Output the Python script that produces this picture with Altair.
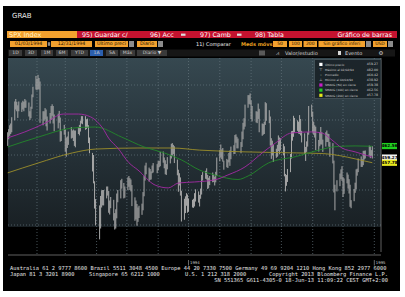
import altair as alt
import pandas as pd

# ------------------------------------------------------------------ data
HOLIDAYS = ["1994-02-21", "1994-04-01", "1994-04-27", "1994-05-30",
            "1994-07-04", "1994-09-05", "1994-11-24", "1994-12-26"]

LOW_JAN = [462.6, 464.5, 465.5, 466.0, 466.5, 469.9, 473.0, 472.5, 470.6, 472.5, 472.3,
           473.0, 472.5, 473.5, 473.5, 471.0, 470.0, 470.5, 473.2, 476.5, 478.7]
HIGH_JAN = [466.5, 467.4, 468.5, 469.0, 470.8, 475.3, 476.0, 475.2, 474.2, 475.3, 475.0,
            475.5, 475.2, 476.0, 475.6, 475.0, 472.5, 473.8, 477.3, 479.5, 482.6]
LOW_FEB = [478.5, 478.8, 478.7, 469.2, 468.5, 469.8, 470.2, 468.2, 467.0, 469.0,
           470.0, 471.2, 469.0, 466.8, 467.6, 469.2, 463.8, 464.0, 465.8]
HIGH_FEB = [481.7, 482.9, 482.0, 481.0, 472.5, 472.5, 473.4, 473.0, 471.0, 472.0,
            474.0, 474.5, 474.0, 471.6, 471.8, 472.6, 470.7, 466.8, 468.6]
LOW_MAR = [461.0, 459.5, 462.0, 462.9, 464.7, 464.9, 464.0, 462.6, 462.2, 466.0, 465.6, 466.7,
           469.0, 468.8, 467.2, 467.4, 467.8, 463.4, 460.5, 455.3, 451.9, 444.7, 439.9]
HIGH_MAR = [467.4, 465.0, 465.3, 466.7, 468.0, 467.0, 467.3, 467.0, 467.0, 468.0, 468.6, 469.8,
            471.1, 471.1, 471.1, 470.2, 470.4, 468.5, 465.0, 460.6, 460.0, 452.5, 447.4]
LOW_APR = [435.9, 439.0, 445.0, 445.6, 445.6, 447.6, 448.4, 443.5, 443.0, 444.8,
           441.3, 438.7, 439.0, 441.9, 446.5, 447.6, 450.4, 447.6, 447.8]
HIGH_APR = [445.6, 448.3, 449.9, 450.0, 450.0, 451.0, 451.0, 449.7, 447.0, 448.0,
            447.2, 443.4, 444.5, 449.0, 450.0, 452.8, 453.2, 452.0, 451.0]
LOW_MAY = [450.0, 450.9, 450.0, 449.6, 445.4, 441.2, 441.6, 439.8, 440.9, 442.0, 442.9,
           444.2, 448.2, 452.7, 454.5, 452.4, 452.9, 453.0, 454.8, 455.0, 454.8]
HIGH_MAY = [453.6, 454.0, 453.4, 453.0, 451.4, 447.9, 447.0, 446.0, 445.0, 445.5, 446.1,
            449.4, 454.0, 457.0, 457.8, 456.4, 456.0, 455.3, 457.0, 457.7, 457.4]
LOW_JUN = [455.6, 456.5, 456.8, 457.8, 456.2, 454.5, 454.3, 455.9, 457.6, 459.0, 459.8,
           460.3, 457.7, 454.2, 449.5, 451.3, 448.4, 441.0, 441.5, 443.4, 445.5, 443.5]
HIGH_JUN = [458.3, 458.3, 460.9, 461.0, 459.3, 458.5, 457.4, 459.4, 460.0, 463.2, 463.4,
            462.9, 462.5, 458.7, 455.8, 454.8, 453.6, 449.8, 447.5, 448.2, 449.1, 448.7]
LOW_JUL = [443.8, 445.0, 444.9, 445.3, 446.7, 446.4, 445.3, 447.5, 448.7, 452.7,
           453.2, 453.0, 450.3, 450.5, 451.4, 452.2, 452.3, 451.3, 452.2, 454.0]
HIGH_JUL = [447.6, 447.2, 447.5, 449.1, 450.2, 449.6, 448.6, 450.4, 454.3, 455.1,
            455.5, 456.2, 454.3, 453.5, 454.0, 455.0, 454.4, 453.8, 455.2, 459.3]
LOW_AUG = [458.2, 459.3, 458.8, 458.1, 455.8, 456.5, 456.3, 457.9, 456.9, 458.8, 460.3, 460.3,
           463.5, 461.9, 461.9, 460.5, 462.3, 464.5, 467.3, 468.1, 473.5, 474.6, 474.4]
HIGH_AUG = [461.5, 463.0, 461.6, 462.0, 458.4, 458.9, 458.6, 460.6, 461.3, 462.4, 462.8, 465.7,
            465.9, 465.2, 464.7, 463.7, 466.7, 469.2, 470.5, 474.4, 477.1, 477.1, 477.6]
LOW_SEP = [470.3, 469.6, 469.3, 469.1, 470.3, 466.5, 465.5, 465.8, 466.0, 468.6, 469.8,
           469.1, 462.7, 458.9, 459.9, 458.0, 459.2, 459.5, 461.1, 460.2, 461.3]
HIGH_SEP = [475.6, 474.0, 472.5, 472.4, 474.7, 473.2, 469.0, 468.9, 469.5, 475.1, 474.8,
            472.8, 471.0, 464.8, 464.1, 462.9, 461.8, 462.9, 465.6, 465.0, 464.8]
LOW_OCT = [459.9, 453.9, 449.6, 451.2, 452.3, 455.1, 459.0, 464.1, 465.2, 466.5, 466.9,
           466.1, 466.0, 465.6, 463.6, 460.3, 458.3, 460.9, 462.4, 465.8, 470.9]
HIGH_OCT = [463.2, 462.5, 454.6, 454.3, 456.0, 460.3, 466.8, 466.9, 471.2, 470.6, 469.9,
            469.5, 471.4, 470.3, 466.9, 466.2, 462.3, 463.9, 466.5, 474.0, 474.4]
LOW_NOV = [466.4, 465.8, 465.0, 461.4, 461.0, 462.5, 463.0, 463.0, 460.9, 462.4, 463.7,
           463.7, 462.4, 459.5, 457.6, 449.3, 444.2, 449.6, 451.1, 453.1, 452.6]
HIGH_NOV = [472.4, 469.5, 468.5, 468.1, 464.3, 466.5, 468.0, 466.5, 464.4, 466.5, 467.0,
            466.1, 466.0, 463.7, 463.4, 458.4, 451.5, 452.8, 454.7, 455.9, 456.8]
LOW_DEC = [448.0, 448.9, 451.9, 450.4, 449.0, 445.2, 444.8, 446.8, 449.2, 450.2, 454.1,
           455.1, 456.6, 456.6, 457.1, 458.7, 459.0, 459.8, 459.1, 459.8, 459.0]
HIGH_DEC = [453.7, 453.3, 455.0, 454.4, 453.1, 451.5, 447.1, 450.3, 452.1, 455.9, 456.1,
            459.0, 459.6, 458.8, 461.2, 461.2, 461.3, 462.7, 462.5, 461.4, 462.5]

SMA50_DATES = ["1994-01-03", "1994-01-20", "1994-02-09", "1994-02-27", "1994-03-14",
               "1994-03-26", "1994-04-02", "1994-04-07", "1994-04-13", "1994-04-22",
               "1994-05-03", "1994-05-12", "1994-05-29", "1994-06-11", "1994-06-21",
               "1994-07-07", "1994-07-27", "1994-08-09", "1994-08-26", "1994-09-12",
               "1994-09-25", "1994-10-11", "1994-10-31", "1994-11-10", "1994-11-20",
               "1994-11-30", "1994-12-13", "1994-12-30"]
SMA50_VALUES = [464.9, 466.6, 469.1, 471.7, 471.7, 470.9, 469.4, 467.7, 464.8, 462.0,
                457.8, 455.7, 451.4, 450.6, 452.0, 452.3, 452.9, 454.3, 456.6, 460.6,
                463.4, 466.3, 466.6, 466.3, 464.3, 462.0, 460.9, 459.4]

SMA100_DATES = ["1994-01-03", "1994-02-02", "1994-03-08", "1994-03-31", "1994-04-26",
                "1994-05-18", "1994-06-07", "1994-06-24", "1994-07-12", "1994-07-27",
                "1994-08-19", "1994-08-29", "1994-09-18", "1994-10-16", "1994-11-07",
                "1994-11-24", "1994-12-13", "1994-12-30"]
SMA100_VALUES = [462.3, 465.1, 467.7, 468.0, 465.1, 462.3, 460.6, 458.6, 455.7, 454.3,
                 453.0, 454.0, 457.7, 459.6, 461.4, 462.4, 462.6, 462.5]

SMA200_DATES = ["1994-01-03", "1994-02-02", "1994-03-08", "1994-03-31", "1994-05-12",
                "1994-06-15", "1994-07-12", "1994-08-26", "1994-10-16", "1994-11-12",
                "1994-11-28", "1994-12-13", "1994-12-30"]
SMA200_VALUES = [454.9, 457.7, 460.6, 461.7, 462.0, 462.0, 461.4, 460.9, 460.6, 460.4,
                 459.8, 458.9, 457.8]

GRID_VALUES = [440, 450, 460, 470, 480]
AXIS_VALUES = [440, 450, 470, 480]
MONTH_STARTS = ["1994-02-01", "1994-03-01", "1994-04-01", "1994-05-01", "1994-06-01",
                "1994-07-01", "1994-08-01", "1994-09-01", "1994-10-01", "1994-11-01",
                "1994-12-01", "1995-01-01"]
YEAR_DATES = ["1994-07-01", "1995-01-01"]
YEAR_LABELS = ["1994", "1995"]

TAG_KEYS = ["sma100", "last", "sma200"]
TAG_VALUES = [462.56, 459.27, 457.78]
TAG_TEXT = ["462.56", "459.27", "457.78"]

LEGEND_NAMES = ["Último precio", "Máximo al 02/02/94", "Promedio", "Mínimo al 04/04/94",
                "SMAVG (50) en cierre", "SMAVG (100) en cierre", "SMAVG (200) en cierre"]
LEGEND_VALUES = ["459.27", "482.00", "460.42", "438.92", "459.38", "462.56", "457.78"]

FOOTER_1 = ("Australia 61 2 9777 8600 Brazil 5511 3048 4500 Europe 44 20 7330 7500 "
            "Germany 49 69 9204 1210 Hong Kong 852 2977 6000")
FOOTER_2 = ["Japan 81 3 3201 8900", "Singapore 65 6212 1000", "U.S. 1 212 318 2000",
            "Copyright 2013 Bloomberg Finance L.P."]
FOOTER_3 = "SN 551365 G611-4305-0 18-Jun-13 11:09:22 CEST GMT+2:00"

# ------------------------------------------------------------------ tables
days = pd.bdate_range("1994-01-03", "1994-12-30")
days = days[~days.isin(pd.to_datetime(HOLIDAYS))]
lows = (LOW_JAN + LOW_FEB + LOW_MAR + LOW_APR + LOW_MAY + LOW_JUN + LOW_JUL + LOW_AUG
        + LOW_SEP + LOW_OCT + LOW_NOV + LOW_DEC)
highs = (HIGH_JAN + HIGH_FEB + HIGH_MAR + HIGH_APR + HIGH_MAY + HIGH_JUN + HIGH_JUL
         + HIGH_AUG + HIGH_SEP + HIGH_OCT + HIGH_NOV + HIGH_DEC)
n = min(len(days), len(lows), len(highs))
bars = pd.DataFrame({"date": days[:n].strftime("%Y-%m-%d"), "lo": lows[:n], "hi": highs[:n]})

SANS = "DejaVu Sans"
MONO = "DejaVu Sans Mono"
ONE = pd.DataFrame({"k": [0]})

XS = alt.Scale(type="utc", nice=False, domain=[
    alt.DateTime(year=1993, month=12, date=26, hours=9, utc=True),
    alt.DateTime(year=1995, month=1, date=31, hours=9, utc=True)])
YS = alt.Scale(domain=[419.43, 504.29], nice=False, zero=False)


def box(x0, y0, x1, y1, fill, stroke=None, sw=0.5, opacity=1.0):
    kw = {"fill": fill, "opacity": opacity, "strokeWidth": 0}
    if stroke is not None:
        kw["stroke"] = stroke
        kw["strokeWidth"] = sw
    return alt.Chart(ONE).mark_rect(**kw).encode(
        x=alt.value(x0), x2=alt.value(x1), y=alt.value(y0), y2=alt.value(y1))


def txt(x, y, s, size=5.0, color="#ffffff", align="left", font=SANS, weight="normal"):
    return alt.Chart(ONE).mark_text(text=s, fontSize=size, color=color, align=align,
                                    baseline="middle", font=font, fontWeight=weight).encode(
        x=alt.value(x), y=alt.value(y))


def hline(x0, x1, y, color, w=0.8):
    return alt.Chart(ONE).mark_rule(color=color, strokeWidth=w).encode(
        x=alt.value(x0), x2=alt.value(x1), y=alt.value(y))


def vline(x, y0, y1, color, w=0.8):
    return alt.Chart(ONE).mark_rule(color=color, strokeWidth=w).encode(
        x=alt.value(x), y=alt.value(y0), y2=alt.value(y1))


ORANGE = "#f2a12e"
RED = "#c4122f"
layers = []

# frame
layers.append(box(3, 6, 400, 291, "#000000"))
layers.append(txt(12, 15.5, "GRAB", 7, "#e8e8e8"))

# row 1
layers.append(box(7, 31, 77, 38, ORANGE))
layers.append(txt(9, 34.7, "SPX Index", 6.5, "#fff6d0"))
layers.append(box(77, 31, 397, 38, RED))
layers.append(txt(82, 34.7, "95) Guardar c/", 6.3))
layers.append(txt(150, 34.7, "96) Acc", 6.3))
layers.append(box(181, 33.6, 185.5, 35.8, "#e0e0e0"))
layers.append(txt(200, 34.7, "97) Camb", 6.3))
layers.append(box(237, 33.6, 241.5, 35.8, "#e0e0e0"))
layers.append(txt(255, 34.7, "98) Tabla", 6.3))
layers.append(txt(392, 34.7, "Gráfico de barras", 6.3, align="right"))

# row 2
for x0, x1, s in [(10, 47, "01/03/1994"), (51, 92, "12/31/1994"), (95, 128, "Último preci"),
                  (137, 157, "Diario")]:
    layers.append(box(x0, 41, x1, 47, ORANGE))
    layers.append(txt((x0 + x1) / 2, 44.2, s, 4.8, "#2a1600", align="center"))
layers.append(box(47.8, 42.2, 50.2, 45.8, "#8a8a8a"))
for x0, x1 in [(129, 134), (158, 163), (366, 371), (388, 393)]:
    layers.append(box(x0, 41, x1, 47, "#8c8c8c"))
layers.append(txt(196, 44.2, "11) Comparar", 5.0, "#f0f0f0"))
layers.append(txt(241, 44.2, "Meds móvs", 5.0, "#e8a020", weight="bold"))
for x0, x1, s in [(273, 287, "50"), (289, 302, "100"), (303.5, 317, "200"),
                  (318.5, 365, "Sin gráfico inferi"), (373, 387, "USD")]:
    layers.append(box(x0, 41, x1, 47, ORANGE))
    layers.append(txt((x0 + x1) / 2, 44.2, s, 4.5, "#2a1600", align="center"))

# row 3
layers.append(box(8, 49.5, 395, 56.5, "#161616"))
for x0, x1, s in [(9, 22, "1D"), (25, 37, "3D"), (41, 53, "1M"), (56, 68, "6M"),
                  (71, 88, "YTD"), (90, 103, "1A"), (106, 118, "5A"), (120, 135, "Máx"),
                  (137, 167, "Diario ▼")]:
    layers.append(box(x0, 50, x1, 56, "#2b5fae" if s == "1A" else "#3a3a3a"))
    layers.append(txt((x0 + x1) / 2, 53.1, s, 4.6, "#d0d0d0", align="center"))
layers.append(box(259, 50.5, 265, 55.5, "#5a5a5a"))
layers.append(txt(276, 53.1, "⩘", 5.5, "#d0d0d0"))
layers.append(txt(285, 53.1, "Valor/estudio", 5.0, "#d8d8d8"))
layers.append(box(338, 51, 341, 55, "#d8d8d8"))
layers.append(txt(345, 53.1, "Evento", 5.0, "#d8d8d8"))
layers.append(txt(381, 53.1, "⚙", 5.5, "#d8d8d8", align="center"))

# plot background
plot_fill = alt.LinearGradient(
    gradient="linear", x1=0, x2=0, y1=0, y2=1,
    stops=[alt.GradientStop(color="#364850", offset=0),
           alt.GradientStop(color="#28353c", offset=0.45),
           alt.GradientStop(color="#192024", offset=1)])
layers.append(box(8, 58, 381, 227, plot_fill))

AXIS_STYLE = dict(labelColor="#cfcfcf", labelFont=SANS, labelFontSize=4.2, title=None,
                  domain=False, grid=False, zindex=1)

# horizontal grid + right value axis
layers.append(alt.Chart(pd.DataFrame({"g": GRID_VALUES})).mark_rule(
    color="#66767e", strokeDash=[1, 2], strokeWidth=0.7).encode(
    y=alt.Y("g:Q", scale=YS, axis=alt.Axis(orient="right", offset=-24, values=AXIS_VALUES,
                                           ticks=True, tickSize=2, tickColor="#cfcfcf",
                                           tickWidth=0.8, labelPadding=1.5, **AXIS_STYLE)),
    x=alt.value(8), x2=alt.value(381)))

# vertical grid + month axis
month_mid = [alt.DateTime(year=1994, month=m, date=15, hours=12, utc=True) for m in range(1, 13)]
layers.append(alt.Chart(pd.DataFrame({"m": MONTH_STARTS})).mark_rule(
    color="#66767e", strokeDash=[1, 2], strokeWidth=0.7).encode(
    x=alt.X("m:T", scale=XS, axis=alt.Axis(orient="bottom", offset=-42, values=month_mid,
                                           format="%b", ticks=False, labelPadding=1,
                                           **AXIS_STYLE)),
    y=alt.value(58), y2=alt.value(255)))

# axis lines
layers.append(hline(8, 381, 255, "#8a8a8a", 0.7))
layers.append(vline(381, 58, 252, "#8a8a8a", 0.7))

# price bars
layers.append(alt.Chart(bars).mark_rule(color="#a9a9a9", strokeWidth=1).encode(
    x=alt.X("date:T", scale=XS, axis=None),
    y=alt.Y("lo:Q", scale=YS, axis=None), y2="hi:Q"))

# moving averages
for dates, vals, col in [(SMA200_DATES, SMA200_VALUES, "#9c8f2a"),
                         (SMA100_DATES, SMA100_VALUES, "#22882a"),
                         (SMA50_DATES, SMA50_VALUES, "#a52aa5")]:
    layers.append(alt.Chart(pd.DataFrame({"d": dates, "v": vals})).mark_line(
        color=col, strokeWidth=0.9, interpolate="monotone").encode(
        x=alt.X("d:T", scale=XS, axis=None), y=alt.Y("v:Q", scale=YS, axis=None)))

# legend box
layers.append(box(314.5, 59.5, 381, 98.5, "#1a2328", stroke="#56656b", sw=0.6, opacity=0.92))
marker_colors = ["#ffffff", None, None, None, "#c81ec8", "#22cc22", "#e6e61e"]
marker_glyphs = [None, "⊤", "–", "⊥", None, None, None]
for i, (name, val) in enumerate(zip(LEGEND_NAMES, LEGEND_VALUES)):
    yy = 64.4 + i * 5.15
    if marker_colors[i]:
        layers.append(box(319.3, yy - 1.6, 322.5, yy + 1.6, marker_colors[i]))
    else:
        layers.append(txt(320.9, yy, marker_glyphs[i], 3.6, "#e0e0e0", align="center"))
    layers.append(txt(325, yy, name, 2.9, "#d2d2d2"))
    layers.append(txt(378, yy, val, 3.2, "#d2d2d2", align="right"))

# right-side value tags
tags = pd.DataFrame({"k": TAG_KEYS, "v": TAG_VALUES, "t": TAG_TEXT})
layers.append(alt.Chart(tags).mark_tick(orient="horizontal", size=15, thickness=6.2,
                                         opacity=1).encode(
    y=alt.Y("v:Q", scale=YS, axis=None), x=alt.value(389.5),
    color=alt.Color("k:N", legend=None, scale=alt.Scale(
        domain=TAG_KEYS, range=["#20d020", "#f2f2f2", "#e8e820"]))))
layers.append(alt.Chart(tags).mark_text(fontSize=4.2, color="#000000", font=SANS,
                                         fontWeight="bold").encode(
    y=alt.Y("v:Q", scale=YS, axis=None), x=alt.value(389.5), text="t:N"))

# year markers
years = pd.DataFrame({"d": YEAR_DATES, "t": YEAR_LABELS})
layers.append(alt.Chart(years).mark_rule(color="#b0b0b0", strokeWidth=0.6).encode(
    x=alt.X("d:T", scale=XS, axis=None), y=alt.value(260), y2=alt.value(265.5)))
layers.append(alt.Chart(years).mark_text(align="left", dx=1.5, fontSize=3.8, color="#cfcfcf",
                                          font=SANS, baseline="middle").encode(
    x=alt.X("d:T", scale=XS, axis=None), y=alt.value(263), text="t:N"))

# footer
layers.append(txt(10, 267.8, FOOTER_1, 5.35, "#e6e6e6", font=MONO))
for xx, s in zip([10, 89, 185], FOOTER_2[:3]):
    layers.append(txt(xx, 273.8, s, 5.35, "#e6e6e6", font=MONO))
layers.append(txt(388, 273.8, FOOTER_2[3], 5.35, "#e6e6e6", align="right", font=MONO))
layers.append(txt(388, 279.8, FOOTER_3, 5.35, "#e6e6e6", align="right", font=MONO))

chart = alt.layer(*layers).properties(
    width=405, height=297, background="#ffffff", padding=0,
    autosize=alt.AutoSizeParams(type="none"),
).configure_view(strokeWidth=0)

chart.save("out.html", embed_options={"renderer": "svg", "actions": False})
